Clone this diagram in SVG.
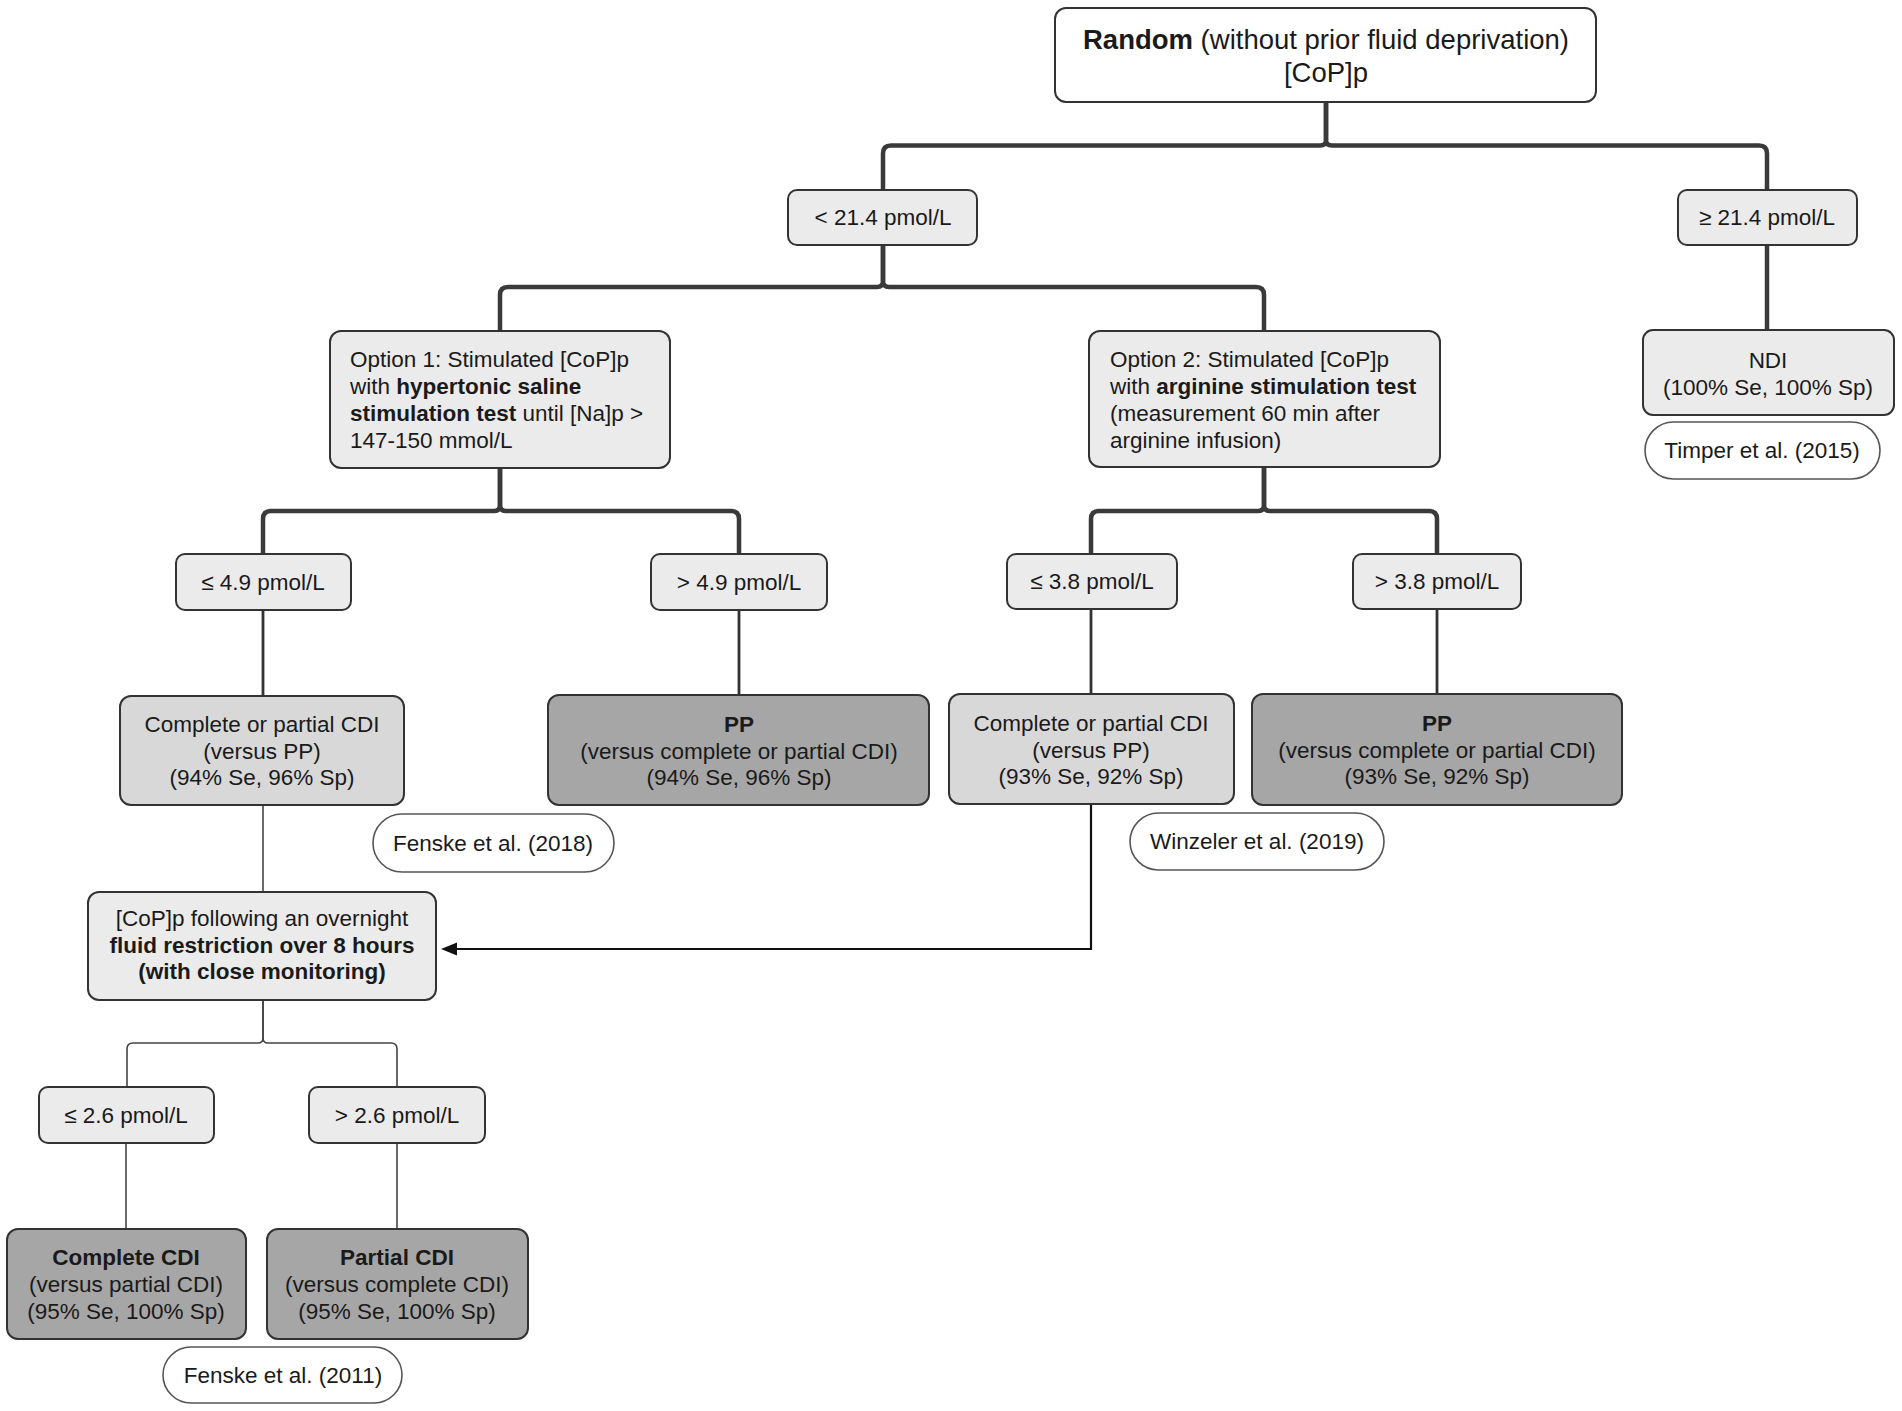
<svg xmlns="http://www.w3.org/2000/svg" width="1902" height="1411" viewBox="0 0 1902 1411">
<style>
text{font-family:"Liberation Sans",Arial,Helvetica,sans-serif;font-size:22.5px;fill:#1a1a1a;}
.c{text-anchor:middle;}
.b{font-weight:bold;}
.big{font-size:27.5px;}
.box{stroke:#333;stroke-width:2;}
.white{fill:#fff;}
.light{fill:#ebebeb;}
.mid{fill:#d8d8d8;}
.dark{fill:#a6a6a6;}
.pill{fill:#fff;stroke:#555;stroke-width:1.6;}
.thick{fill:none;stroke:#3a3a3a;stroke-width:4.5;}
.med{fill:none;stroke:#333;stroke-width:2.8;}
.thin{fill:none;stroke:#444;stroke-width:1.6;}
.arr{fill:none;stroke:#111;stroke-width:2.2;}
</style>
<defs>
<marker id="ah" markerUnits="userSpaceOnUse" markerWidth="18" markerHeight="14" refX="9" refY="6.5" orient="auto">
<path d="M0,0 L16,6.5 L0,13 Z" fill="#111"/>
</marker>
</defs>
<rect width="1902" height="1411" fill="#fff"/>
<g id="connectors">
<path class="thick" d="M1326,102 V140 Q1326,145.5 1320,145.5 H891 Q883,145.5 883,153.5 V190"/>
<path class="thick" d="M1326,102 V140 Q1326,145.5 1332,145.5 H1759 Q1767,145.5 1767,153.5 V190"/>
<path class="thick" d="M1767,245 V330"/>
<path class="thick" d="M883,245 V281 Q883,287 877,287 H508 Q500,287 500,295 V331"/>
<path class="thick" d="M883,245 V281 Q883,287 889,287 H1256 Q1264,287 1264,295 V331"/>
<path class="thick" d="M500,468 V505 Q500,511 494,511 H271 Q263,511 263,519 V554"/>
<path class="thick" d="M500,468 V505 Q500,511 506,511 H731 Q739,511 739,519 V554"/>
<path class="thick" d="M1264,467 V505 Q1264,511 1258,511 H1099 Q1091,511 1091,519 V554"/>
<path class="thick" d="M1264,467 V505 Q1264,511 1270,511 H1429 Q1437,511 1437,519 V554"/>
<path class="med" d="M263,610 V696"/>
<path class="med" d="M739,610 V695"/>
<path class="med" d="M1091,609 V694"/>
<path class="med" d="M1437,609 V694"/>
<path class="thin" d="M263,805 V892"/>
<path class="thin" d="M263,1000 V1038 Q263,1043 258,1043 H133 Q127,1043 127,1049 V1087"/>
<path class="thin" d="M263,1000 V1038 Q263,1043 268,1043 H391 Q397,1043 397,1049 V1087"/>
<path class="thin" d="M126,1143 V1229"/>
<path class="thin" d="M397,1143 V1229"/>
<path class="arr" d="M1091,804 V949 H448" marker-end="url(#ah)"/>
</g>
<g id="n-random">
<rect class="box white" x="1055" y="8" width="541" height="94" rx="11"/>
<text class="c big" x="1326" y="49"><tspan class="b">Random</tspan> (without prior fluid deprivation)</text>
<text class="c big" x="1326" y="82">[CoP]p</text>
</g>
<g id="n-lt214">
<rect class="box light" x="788" y="190" width="189" height="55" rx="9"/>
<text class="c" x="883" y="225">&lt; 21.4 pmol/L</text>
</g>
<g id="n-ge214">
<rect class="box light" x="1678" y="190" width="179" height="55" rx="9"/>
<text class="c" x="1767" y="225">≥ 21.4 pmol/L</text>
</g>
<g id="n-ndi">
<rect class="box light" x="1643" y="330" width="251" height="85" rx="10"/>
<text class="c" x="1768" y="368">NDI</text>
<text class="c" x="1768" y="395">(100% Se, 100% Sp)</text>
</g>
<g id="n-timper">
<rect class="pill" x="1645" y="422" width="235" height="57" rx="28.5"/>
<text class="c" x="1762" y="458">Timper et al. (2015)</text>
</g>
<g id="n-opt1">
<rect class="box light" x="330" y="331" width="340" height="137" rx="11"/>
<text x="350" y="367">Option 1: Stimulated [CoP]p</text>
<text x="350" y="394">with <tspan class="b">hypertonic saline</tspan></text>
<text x="350" y="421"><tspan class="b">stimulation test</tspan> until [Na]p &gt;</text>
<text x="350" y="448">147-150 mmol/L</text>
</g>
<g id="n-opt2">
<rect class="box light" x="1089" y="331" width="351" height="136" rx="11"/>
<text x="1110" y="367">Option 2: Stimulated [CoP]p</text>
<text x="1110" y="394">with <tspan class="b">arginine stimulation test</tspan></text>
<text x="1110" y="421">(measurement 60 min after</text>
<text x="1110" y="448">arginine infusion)</text>
</g>
<g id="n-le49">
<rect class="box light" x="176" y="554" width="175" height="56" rx="9"/>
<text class="c" x="263" y="590">≤ 4.9 pmol/L</text>
</g>
<g id="n-gt49">
<rect class="box light" x="651" y="554" width="176" height="56" rx="9"/>
<text class="c" x="739" y="590">&gt; 4.9 pmol/L</text>
</g>
<g id="n-le38">
<rect class="box light" x="1007" y="554" width="170" height="55" rx="9"/>
<text class="c" x="1092" y="589">≤ 3.8 pmol/L</text>
</g>
<g id="n-gt38">
<rect class="box light" x="1353" y="554" width="168" height="55" rx="9"/>
<text class="c" x="1437" y="589">&gt; 3.8 pmol/L</text>
</g>
<g id="n-cdi1">
<rect class="box mid" x="120" y="696" width="284" height="109" rx="11"/>
<text class="c" x="262" y="732">Complete or partial CDI</text>
<text class="c" x="262" y="759">(versus PP)</text>
<text class="c" x="262" y="785">(94% Se, 96% Sp)</text>
</g>
<g id="n-pp1">
<rect class="box dark" x="548" y="695" width="381" height="110" rx="11"/>
<text class="c b" x="739" y="732">PP</text>
<text class="c" x="739" y="759">(versus complete or partial CDI)</text>
<text class="c" x="739" y="785">(94% Se, 96% Sp)</text>
</g>
<g id="n-fenske2018">
<rect class="pill" x="373" y="814" width="241" height="58" rx="29"/>
<text class="c" x="493" y="851">Fenske et al. (2018)</text>
</g>
<g id="n-cdi2">
<rect class="box mid" x="949" y="694" width="285" height="110" rx="11"/>
<text class="c" x="1091" y="731">Complete or partial CDI</text>
<text class="c" x="1091" y="758">(versus PP)</text>
<text class="c" x="1091" y="784">(93% Se, 92% Sp)</text>
</g>
<g id="n-pp2">
<rect class="box dark" x="1252" y="694" width="370" height="111" rx="11"/>
<text class="c b" x="1437" y="731">PP</text>
<text class="c" x="1437" y="758">(versus complete or partial CDI)</text>
<text class="c" x="1437" y="784">(93% Se, 92% Sp)</text>
</g>
<g id="n-winzeler">
<rect class="pill" x="1130" y="813" width="254" height="57" rx="28.5"/>
<text class="c" x="1257" y="849">Winzeler et al. (2019)</text>
</g>
<g id="n-fluid">
<rect class="box light" x="88" y="892" width="348" height="108" rx="11"/>
<text class="c" x="262" y="926">[CoP]p following an overnight</text>
<text class="c b" x="262" y="953">fluid restriction over 8 hours</text>
<text class="c b" x="262" y="979">(with close monitoring)</text>
</g>
<g id="n-le26">
<rect class="box light" x="39" y="1087" width="175" height="56" rx="9"/>
<text class="c" x="126" y="1123">≤ 2.6 pmol/L</text>
</g>
<g id="n-gt26">
<rect class="box light" x="309" y="1087" width="176" height="56" rx="9"/>
<text class="c" x="397" y="1123">&gt; 2.6 pmol/L</text>
</g>
<g id="n-complete">
<rect class="box dark" x="7" y="1229" width="239" height="110" rx="11"/>
<text class="c b" x="126" y="1265">Complete CDI</text>
<text class="c" x="126" y="1292">(versus partial CDI)</text>
<text class="c" x="126" y="1319">(95% Se, 100% Sp)</text>
</g>
<g id="n-partial">
<rect class="box dark" x="267" y="1229" width="261" height="110" rx="11"/>
<text class="c b" x="397" y="1265">Partial CDI</text>
<text class="c" x="397" y="1292">(versus complete CDI)</text>
<text class="c" x="397" y="1319">(95% Se, 100% Sp)</text>
</g>
<g id="n-fenske2011">
<rect class="pill" x="163" y="1347" width="239" height="56" rx="28"/>
<text class="c" x="283" y="1383">Fenske et al. (2011)</text>
</g>
</svg>
